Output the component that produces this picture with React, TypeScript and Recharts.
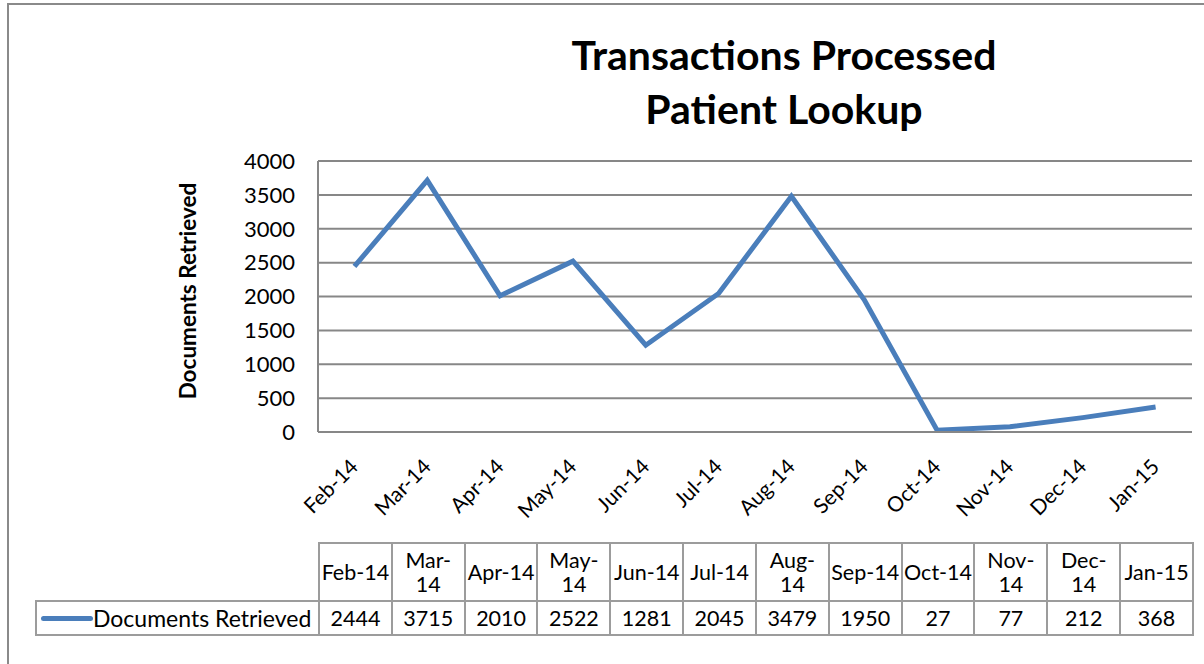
import React from 'react';
import { LineChart, Line, XAxis, YAxis, CartesianGrid } from 'recharts';

const months = ['Feb-14', 'Mar-14', 'Apr-14', 'May-14', 'Jun-14', 'Jul-14', 'Aug-14', 'Sep-14', 'Oct-14', 'Nov-14', 'Dec-14', 'Jan-15'];
const documentsRetrieved = [2444, 3715, 2010, 2522, 1281, 2045, 3479, 1950, 27, 77, 212, 368];
// table header labels as they wrap in the data table
const tableHeaders = ['Feb-14', 'Mar-\n14', 'Apr-14', 'May-\n14', 'Jun-14', 'Jul-14', 'Aug-\n14', 'Sep-14', 'Oct-14', 'Nov-\n14', 'Dec-\n14', 'Jan-15'];
const yTicks = [0, 500, 1000, 1500, 2000, 2500, 3000, 3500, 4000];
const seriesName = 'Documents Retrieved';
const titleLines = ['Transactions Processed', 'Patient Lookup'];

const data = months.map((m, i) => ({ month: m, docs: documentsRetrieved[i] }));

const FONT = "Lato, 'Liberation Sans', sans-serif";
const BLUE = '#4a7ebb';
const GRID = '#878787';
const TABLE_BORDER = '#9c9c9c';

const PLOT_LEFT = 318;
const PLOT_RIGHT = 1192;
const PLOT_TOP = 161;
const PLOT_BOTTOM = 432;
const BAND = (PLOT_RIGHT - PLOT_LEFT) / months.length;

const MonthTick = ({ x, y, payload }: any) => {
  const ax = x + 5;
  const ay = y + 36;
  return (
    <text
      x={ax}
      y={ay}
      transform={`rotate(-45, ${ax}, ${ay})`}
      textAnchor="end"
      fontSize={21}
      fontFamily={FONT}
      fill="#000"
    >
      {payload.value}
    </text>
  );
};

const cell: React.CSSProperties = {
  border: `2px solid ${TABLE_BORDER}`,
  textAlign: 'center',
  padding: 0,
  fontSize: 21.5,
  lineHeight: '24px',
  whiteSpace: 'pre',
  overflow: 'hidden',
};

const App = () => {
  return (
    <div style={{ position: 'absolute', left: 0, top: 0, width: 1204, height: 664, background: '#fff', overflow: 'hidden', fontFamily: FONT }}>
      <div style={{ position: 'absolute', left: 7, top: 3, width: 1300, height: 800, borderLeft: '2px solid #8a8a8a', borderTop: '2px solid #8a8a8a' }} />

      <div style={{ position: 'absolute', left: 534, top: 28, width: 500, textAlign: 'center', fontWeight: 700, fontSize: 41, lineHeight: '54px', color: '#000' }}>
        {titleLines.map((t) => (
          <div key={t}>{t}</div>
        ))}
      </div>

      <div
        style={{
          position: 'absolute',
          left: 188 - 150,
          top: 291 - 13,
          width: 300,
          height: 26,
          lineHeight: '26px',
          textAlign: 'center',
          fontWeight: 700,
          fontSize: 22.5,
          transform: 'rotate(-90deg)',
          color: '#000',
        }}
      >
        {seriesName}
      </div>

      <LineChart
        width={1204}
        height={664}
        data={data}
        margin={{ top: PLOT_TOP, right: 1204 - PLOT_RIGHT, bottom: 0, left: 0 }}
        style={{ position: 'absolute', left: 0, top: 0 }}
      >
        <CartesianGrid vertical={false} stroke={GRID} strokeWidth={2} />
        <XAxis
          dataKey="month"
          height={664 - PLOT_BOTTOM}
          padding={{ left: BAND / 2, right: BAND / 2 }}
          interval={0}
          tickSize={0}
          tickMargin={0}
          tickLine={false}
          axisLine={{ stroke: GRID, strokeWidth: 2 }}
          tick={<MonthTick />}
        />
        <YAxis
          width={PLOT_LEFT}
          domain={[0, 4000]}
          ticks={yTicks}
          interval={0}
          tickSize={0}
          tickMargin={23}
          tickLine={false}
          axisLine={{ stroke: GRID, strokeWidth: 2 }}
          tick={{ fontSize: 22, fontFamily: FONT, fill: '#000' }}
        />
        <Line
          type="linear"
          dataKey="docs"
          name={seriesName}
          stroke={BLUE}
          strokeWidth={5}
          dot={false}
          activeDot={false}
          isAnimationActive={false}
        />
      </LineChart>

      <table
        style={{
          position: 'absolute',
          left: 35,
          top: 542,
          borderCollapse: 'collapse',
          tableLayout: 'fixed',
          width: PLOT_RIGHT - 35,
          fontFamily: FONT,
          color: '#000',
        }}
      >
        <colgroup>
          <col style={{ width: PLOT_LEFT - 35 }} />
          {months.map((m) => (
            <col key={m} style={{ width: BAND }} />
          ))}
        </colgroup>
        <tbody>
          <tr style={{ height: 58 }}>
            <td style={{ border: 'none', padding: 0 }} />
            {tableHeaders.map((h) => (
              <td key={h} style={cell}>{h}</td>
            ))}
          </tr>
          <tr style={{ height: 34 }}>
            <td style={{ ...cell, textAlign: 'left' }}>
              <div style={{ display: 'flex', alignItems: 'center', fontSize: 23 }}>
                <span style={{ display: 'inline-block', width: 52, height: 5, borderRadius: 3, background: BLUE, marginLeft: 4 }} />
                <span>{seriesName}</span>
              </div>
            </td>
            {documentsRetrieved.map((v, i) => (
              <td key={months[i]} style={cell}>{v}</td>
            ))}
          </tr>
        </tbody>
      </table>
    </div>
  );
};

export default App;
